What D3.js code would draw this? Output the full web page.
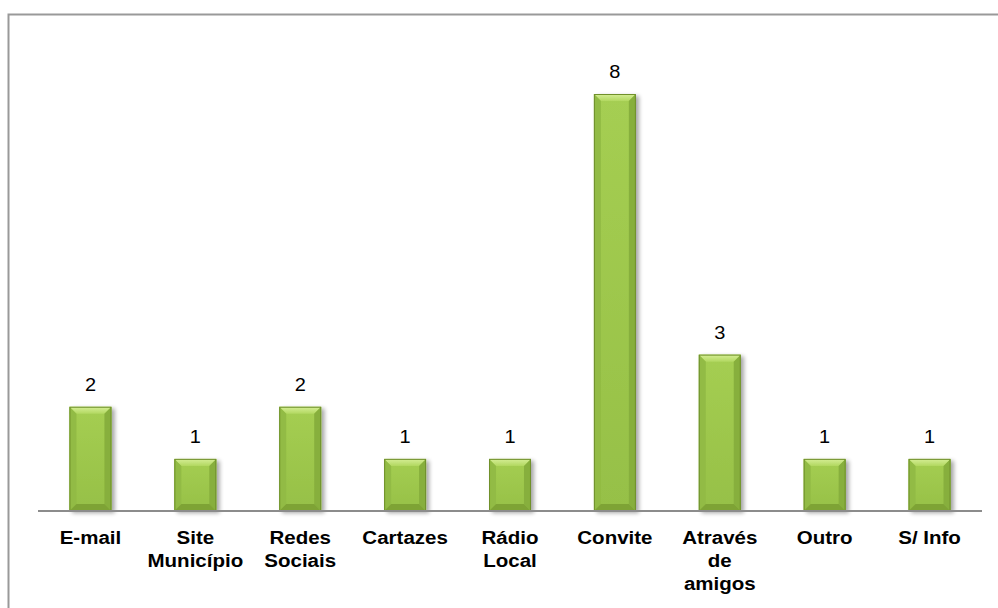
<!DOCTYPE html>
<html><head><meta charset="utf-8">
<script src="https://cdn.jsdelivr.net/npm/d3@7/dist/d3.min.js"></script>
<style>html,body{margin:0;padding:0;background:#fff;}svg{display:block;}</style>
</head><body>
<svg id="c" width="998" height="608"></svg>
<script>
const categories = [["E-mail"],["Site","Município"],["Redes","Sociais"],["Cartazes"],["Rádio","Local"],["Convite"],["Através","de","amigos"],["Outro"],["S/ Info"]];
const values = [2,1,2,1,1,8,3,1,1];

const svg = d3.select("#c");
const axisY = 511, topY = 94;
const x = d3.scaleBand().domain(d3.range(values.length)).range([38, 982]).paddingInner(0.6).paddingOuter(0.3);
const y = d3.scaleLinear().domain([0, 8]).range([axisY, topY]);

const defs = svg.append("defs");
const f = defs.append("filter").attr("id","sh").attr("x","-30%").attr("y","-10%").attr("width","160%").attr("height","130%");
f.append("feGaussianBlur").attr("in","SourceAlpha").attr("stdDeviation",2.2);
f.append("feOffset").attr("dx",3).attr("dy",2).attr("result","b");
f.append("feComponentTransfer").append("feFuncA").attr("type","linear").attr("slope",0.35);
const m = f.append("feMerge"); m.append("feMergeNode"); m.append("feMergeNode").attr("in","SourceGraphic");

const gTop = defs.append("linearGradient").attr("id","gt").attr("x1",0).attr("y1",0).attr("x2",0).attr("y2",1);
gTop.append("stop").attr("offset","0%").attr("stop-color","#d6ee96");
gTop.append("stop").attr("offset","100%").attr("stop-color","#b2d861");
const gMid = defs.append("linearGradient").attr("id","gm").attr("x1",0).attr("y1",0).attr("x2",0).attr("y2",1);
gMid.append("stop").attr("offset","0%").attr("stop-color","#a5ce52");
gMid.append("stop").attr("offset","100%").attr("stop-color","#96c047");

// border
svg.append("rect").attr("x",8.5).attr("y",14.5).attr("width",1000).attr("height",700)
  .attr("fill","none").attr("stroke","#999").attr("stroke-width",2);

const bars = svg.append("g").selectAll("g").data(values).join("g").attr("filter","url(#sh)");
bars.each(function(v,i){
  const g = d3.select(this);
  const x0 = x(i), w = x.bandwidth(), y0 = y(v), y1 = y(0);
  const b = Math.min(7, (y1-y0)/3);
  const x1 = x0 + w;
  const poly = pts => pts.map(p=>p.join(",")).join(" ");
  g.append("rect").attr("x",x0).attr("y",y0).attr("width",w).attr("height",y1-y0).attr("fill","url(#gm)");
  g.append("polygon").attr("points",poly([[x0,y0],[x1,y0],[x1-b,y0+b],[x0+b,y0+b]])).attr("fill","url(#gt)");
  g.append("polygon").attr("points",poly([[x0,y0],[x0+b,y0+b],[x0+b,y1-b],[x0,y1]])).attr("fill","#92bb44");
  g.append("polygon").attr("points",poly([[x1,y0],[x1,y1],[x1-b,y1-b],[x1-b,y0+b]])).attr("fill","#87af3c");
  g.append("polygon").attr("points",poly([[x0,y1],[x0+b,y1-b],[x1-b,y1-b],[x1,y1]])).attr("fill","#7ea336");
  g.append("rect").attr("x",x0+0.5).attr("y",y0+0.5).attr("width",w-1).attr("height",y1-y0-1)
    .attr("fill","none").attr("stroke","#6f902c").attr("stroke-width",1);
});

// axis line
svg.append("line").attr("x1",38).attr("x2",982).attr("y1",axisY).attr("y2",axisY)
  .attr("stroke","#8c8c8c").attr("stroke-width",2);

// value labels
svg.append("g").selectAll("text").data(values).join("text")
  .attr("transform",(d,i)=>`translate(${x(i)+x.bandwidth()/2},${y(d)-16}) scale(1.08,1)`)
  .attr("text-anchor","middle").attr("font-family","Liberation Sans, Arial, sans-serif")
  .attr("font-size",18.5).attr("fill","#000").text(d=>d);

// category labels
const cl = svg.append("g").selectAll("g").data(categories).join("g");
cl.each(function(lines,i){
  const cx = x(i)+x.bandwidth()/2;
  d3.select(this).selectAll("text").data(lines).join("text")
    .attr("transform",(d,j)=>`translate(${cx},${axisY+32.5+j*23}) scale(1.08,1)`)
    .attr("text-anchor","middle").attr("font-family","Liberation Sans, Arial, sans-serif")
    .attr("font-weight","bold").attr("font-size",19).attr("fill","#000").text(d=>d);
});
</script>
</body></html>
